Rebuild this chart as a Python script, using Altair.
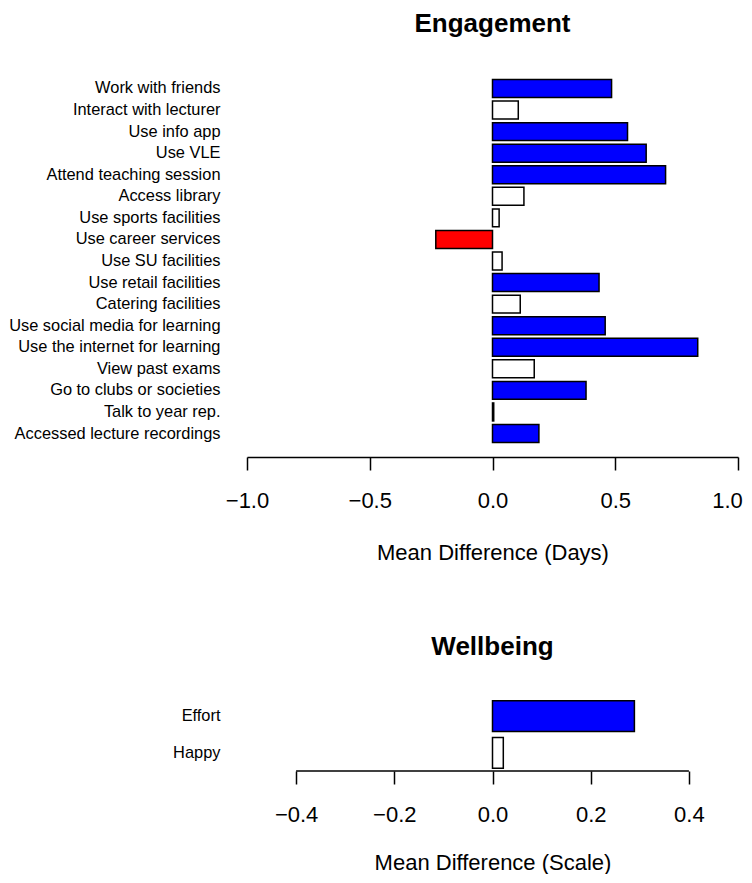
import altair as alt
import pandas as pd

FONT = "Liberation Sans"

# ---- data ----
eng_labels = [
    "Work with friends", "Interact with lecturer", "Use info app", "Use VLE",
    "Attend teaching session", "Access library", "Use sports facilities",
    "Use career services", "Use SU facilities", "Use retail facilities",
    "Catering facilities", "Use social media for learning",
    "Use the internet for learning", "View past exams",
    "Go to clubs or societies", "Talk to year rep.", "Accessed lecture recordings",
]
eng_values = [0.485, 0.105, 0.550, 0.626, 0.705, 0.128, 0.027, -0.231, 0.039,
              0.434, 0.113, 0.459, 0.836, 0.170, 0.381, 0.005, 0.189]
eng_sig = ["pos", "ns", "pos", "pos", "pos", "ns", "ns", "neg", "ns",
           "pos", "ns", "pos", "pos", "ns", "pos", "ns", "pos"]

wb_labels = ["Effort", "Happy"]
wb_values = [0.289, 0.022]
wb_sig = ["pos", "ns"]

eng_ticks = [-1.0, -0.5, 0.0, 0.5, 1.0]
wb_ticks = [-0.4, -0.2, 0.0, 0.2, 0.4]

sig_levels = ["pos", "ns", "neg"]
sig_colors = ["#0000FF", "#FFFFFF", "#FF0000"]

eng_df = pd.DataFrame({"item": eng_labels, "diff": eng_values, "sig": eng_sig})
wb_df = pd.DataFrame({"item": wb_labels, "diff": wb_values, "sig": wb_sig})
wb_axis_df = pd.DataFrame({"lo": [min(wb_ticks)], "hi": [max(wb_ticks)]})

color_scale = alt.Scale(domain=sig_levels, range=sig_colors)

ENG_W, ENG_H = 491, 392
WB_W, WB_H = 491, 73


def y_axis():
    return alt.Axis(title=None, ticks=False, domain=False, labelFontSize=16.4,
                    labelPadding=27, labelColor="black", labelFont=FONT,
                    labelAlign="right", labelLimit=400)


def x_axis(ticks, title, title_pad, show_domain=True, last_shift=0):
    return alt.Axis(values=ticks, format=".1f", title=title, grid=False,
                    domain=show_domain, domainColor="black", domainWidth=1.5,
                    tickSize=13, tickWidth=1.5, tickColor="black",
                    labelFontSize=22, labelPadding=20.8, labelFont=FONT,
                    labelColor="black", labelFlush=False, labelOverlap=False,
                    labelOffset=alt.expr(f"datum.value == {max(ticks)} ? {last_shift} : 0"),
                    titleFontSize=22, titleFontWeight="normal", titleFont=FONT,
                    titleColor="black", titlePadding=title_pad)


def title(text, offset, baseline="bottom"):
    return alt.Title(text, fontSize=26, font=FONT, fontWeight="bold",
                     anchor="middle", color="black", offset=offset,
                     baseline=baseline)


eng_scale_x = alt.Scale(domain=[min(eng_ticks), max(eng_ticks)], nice=False)
eng = alt.Chart(eng_df).mark_bar(stroke="black", strokeWidth=1.5).encode(
    x=alt.X("diff:Q", scale=eng_scale_x,
            axis=x_axis(eng_ticks, "Mean Difference (Days)", 31, last_shift=-11)),
    y=alt.Y("item:N", sort=eng_labels,
            scale=alt.Scale(paddingInner=0.1667, paddingOuter=0.673),
            axis=y_axis()),
    fill=alt.Fill("sig:N", scale=color_scale, legend=None),
).properties(width=ENG_W, height=ENG_H, title=title("Engagement", 28, "top"))

wb_scale_x = alt.Scale(domain=[-0.5, 0.5], nice=False)
wb_x_axis = x_axis(wb_ticks, "Mean Difference (Scale)", 27, show_domain=False)
wb_bars = alt.Chart(wb_df).mark_bar(stroke="black", strokeWidth=1.5).encode(
    x=alt.X("diff:Q", scale=wb_scale_x, axis=wb_x_axis),
    y=alt.Y("item:N", sort=wb_labels,
            scale=alt.Scale(paddingInner=0.1667, paddingOuter=0.0733),
            axis=y_axis()),
    fill=alt.Fill("sig:N", scale=color_scale, legend=None),
)
wb_rule = alt.Chart(wb_axis_df).mark_rule(color="black", strokeWidth=1.5).encode(
    x=alt.X("lo:Q", scale=wb_scale_x, axis=wb_x_axis),
    x2="hi:Q",
    y=alt.value(WB_H),
)
wb = alt.layer(wb_bars, wb_rule).properties(
    width=WB_W, height=WB_H, title=title("Wellbeing", 11.6))

chart = alt.vconcat(eng, wb, spacing=241, bounds="flush").properties(
    padding={"left": 0, "top": 3, "right": 0, "bottom": 0}
).configure(background="white").configure_view(stroke=None)

chart.save("out.html", embed_options={"renderer": "svg", "actions": False})
